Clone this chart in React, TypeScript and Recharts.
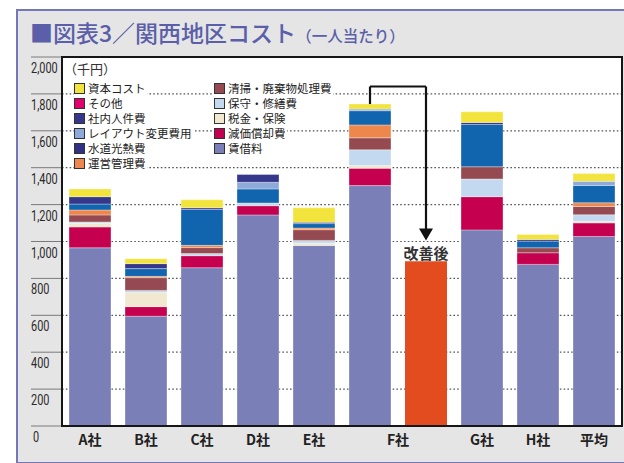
import { Bar, BarChart, CartesianGrid, LabelList, ReferenceDot, ReferenceLine, XAxis, YAxis } from "recharts";

// 千円 / 一人当たり
const companies = ["A社", "B社", "C社", "D社", "E社", "F社", "改善後", "G社", "H社", "平均"];
const rent = [966, 595, 858, 1144, 978, 1303, 0, 1063, 876, 1027];
const depreciation = [113, 52, 65, 50, 0, 94, 0, 180, 63, 74];
const taxInsurance = [20, 77, 0, 0, 13, 15, 0, 0, 0, 9];
const maintenance = [7, 11, 12, 15, 15, 85, 0, 96, 0, 35];
const cleaning = [38, 69, 32, 0, 58, 65, 0, 66, 27, 45];
const management = [27, 7, 12, 0, 9, 70, 0, 0, 0, 20];
const utilities = [32, 42, 195, 76, 24, 77, 0, 229, 36, 94];
const layoutChange = [0, 0, 0, 36, 0, 9, 0, 0, 0, 22];
const staff = [40, 27, 9, 42, 7, 0, 0, 11, 9, 0];
const other = [0, 0, 0, 0, 0, 0, 0, 0, 0, 0];
const capital = [42, 27, 43, 0, 79, 27, 0, 58, 27, 42];
const improved = [0, 0, 0, 0, 0, 0, 893, 0, 0, 0];

const yTicks = [0, 200, 400, 600, 800, 1000, 1200, 1400, 1600, 1800, 2000];
const arrowLevel = 1840;
const arrowTip = 1005;

// bottom -> top
const series = [
  { key: "rent", name: "賃借料", values: rent, color: "#7b7fb7", legend: "#7b7fb7" },
  { key: "depreciation", name: "減価償却費", values: depreciation, color: "#c5004e", legend: "#c5004e" },
  { key: "tax", name: "税金・保険", values: taxInsurance, color: "#f0e8cf", legend: "#f0e8cf" },
  { key: "maint", name: "保守・修繕費", values: maintenance, color: "#c3d9ef", legend: "#c3d9ef" },
  { key: "clean", name: "清掃・廃棄物処理費", values: cleaning, color: "#944a50", legend: "#944a50" },
  { key: "mgmt", name: "運営管理費", values: management, color: "#ee874c", legend: "#ee874c" },
  { key: "util", name: "水道光熱費", values: utilities, color: "#1164ae", legend: "#2f3282" },
  { key: "layout", name: "レイアウト変更費用", values: layoutChange, color: "#8eaadb", legend: "#8eaadb" },
  { key: "staff", name: "社内人件費", values: staff, color: "#35378a", legend: "#35378a" },
  { key: "other", name: "その他", values: other, color: "#e2006f", legend: "#e2006f" },
  { key: "capital", name: "資本コスト", values: capital, color: "#f2e43c", legend: "#f2e43c" },
];

const legendLeft = ["資本コスト", "その他", "社内人件費", "レイアウト変更費用", "水道光熱費", "運営管理費"];
const legendRight = ["清掃・廃棄物処理費", "保守・修繕費", "税金・保険", "減価償却費", "賃借料"];

const data = companies.map((name, i) => {
  const row: Record<string, string | number> = { name, improved: improved[i] };
  series.forEach((s) => (row[s.key] = s.values[i]));
  return row;
});

const fTotal = series.reduce((sum, s) => sum + s.values[companies.indexOf("F社")], 0);

const jp = "'Noto Sans CJK JP', 'Noto Sans', sans-serif";
const numFont = "'Roboto', 'Liberation Sans', sans-serif";

function fmt(v: number) {
  if (v < 1000) return String(v);
  return `${Math.floor(v / 1000)},${String(v % 1000).padStart(3, "0")}`;
}

function YTick({ y, payload }: any) {
  const v = payload.value as number;
  return (
    <g>
      <line x1={31} x2={62} y1={y} y2={y} stroke="#7a7a7a" strokeWidth={1} />
      <text
        transform={`translate(${v === 0 ? 33 : 31}, ${y + 11}) scale(0.78, 1)`}
        dominantBaseline="central"
        fontSize={14}
        fill="#2a2a2a"
        fontFamily={numFont}
      >
        {fmt(v)}
      </text>
    </g>
  );
}

function XTick({ x, payload }: any) {
  if (payload.value === "改善後") return <g />;
  const shift = payload.value === "F社" ? payload.offset ?? 28 : 0;
  return (
    <text x={x + shift} y={439} textAnchor="middle" dominantBaseline="central" fontSize={14} fontWeight={700} fill="#222" fontFamily={jp}>
      {payload.value}
    </text>
  );
}

function ImprovedLabel(p: any) {
  if (!p.value) return null;
  return (
    <text x={p.x + p.width / 2} y={p.y - 9} textAnchor="middle" dominantBaseline="central" fontSize={15} fontWeight={700} fill="#333" fontFamily={jp}>
      改善後
    </text>
  );
}

function ArrowHead(p: any) {
  const { cx, cy } = p;
  return <polygon points={`${cx - 7},${cy - 12} ${cx + 7},${cy - 12} ${cx},${cy}`} fill="#111" />;
}

function LegendItem({ name, x, y }: { name: string; x: number; y: number }) {
  const s = series.find((d) => d.name === name)!;
  return (
    <div style={{ position: "absolute", left: x, top: y, height: 13, display: "flex", alignItems: "center", background: "#fff", paddingRight: 1 }}>
      <span style={{ width: 9, height: 9, background: s.legend, border: "1px solid #333", marginRight: 3 }} />
      <span style={{ fontSize: 11.5, color: "#222", fontFamily: jp, lineHeight: "13px" }}>{name}</span>
    </div>
  );
}

export default function App() {
  return (
    <div style={{ position: "absolute", left: 0, top: 0, width: 624, height: 463, background: "#fff", overflow: "hidden" }}>
      <div
        style={{
          position: "absolute",
          left: 16,
          top: 9,
          width: 620,
          height: 451,
          background: "#e5e5e5",
          borderLeft: "2px solid #7478bb",
          borderTop: "2px solid #7478bb",
          borderBottom: "2px solid #7478bb",
        }}
      />
      <div style={{ position: "absolute", left: 30, top: 21, fontFamily: jp, color: "#5b5fa9", fontWeight: 500, whiteSpace: "nowrap", lineHeight: 1 }}>
        <span style={{ fontSize: 23 }}>■図表3／関西地区コスト</span>
        <span style={{ fontSize: 15.5 }}>（一人当たり）</span>
      </div>
      <div style={{ position: "absolute", left: 62, top: 57, width: 560, height: 369, background: "#fff" }} />
      <div style={{ position: "absolute", left: 0, top: 0 }}>
        <BarChart width={624} height={463} data={data} margin={{ top: 57, right: 2, bottom: 7, left: 30 }} barCategoryGap="12.5%">
          <CartesianGrid horizontal vertical={false} stroke="#555" strokeDasharray="1.6 2.2" strokeWidth={1.2} />
          <XAxis dataKey="name" height={30} tick={<XTick />} tickLine={false} axisLine={false} interval={0} />
          <YAxis width={32} domain={[0, 2000]} ticks={yTicks} tick={<YTick />} tickLine={false} axisLine={false} interval={0} />
          {series.map((s) => (
            <Bar key={s.key} dataKey={s.key} name={s.name} stackId="a" fill={s.color} stroke="#ffffff" strokeOpacity={0.55} strokeWidth={0.6} isAnimationActive={false} />
          ))}
          <Bar dataKey="improved" name="改善後" stackId="a" fill="#e34c1e" isAnimationActive={false}>
            <LabelList dataKey="improved" content={<ImprovedLabel />} />
          </Bar>
          <ReferenceLine segment={[{ x: "F社", y: fTotal }, { x: "F社", y: arrowLevel }]} stroke="#111" strokeWidth={2.2} />
          <ReferenceLine segment={[{ x: "F社", y: arrowLevel }, { x: "改善後", y: arrowLevel }]} stroke="#111" strokeWidth={2.2} />
          <ReferenceLine segment={[{ x: "改善後", y: arrowLevel }, { x: "改善後", y: arrowTip + 40 }]} stroke="#111" strokeWidth={2.2} />
          <ReferenceDot x="改善後" y={arrowTip} r={6} shape={<ArrowHead />} />
        </BarChart>
      </div>
      <div style={{ position: "absolute", left: 61, top: 56, width: 562, height: 371, border: "2px solid #161616", boxSizing: "border-box", pointerEvents: "none" }} />
      <div style={{ position: "absolute", left: 64, top: 59, fontSize: 13, fontFamily: jp, color: "#333", background: "#fff" }}>（千円）</div>
      {legendLeft.map((n, i) => (
        <LegendItem key={n} name={n} x={74} y={82 + i * 15} />
      ))}
      {legendRight.map((n, i) => (
        <LegendItem key={n} name={n} x={214} y={82 + i * 15} />
      ))}
    </div>
  );
}
